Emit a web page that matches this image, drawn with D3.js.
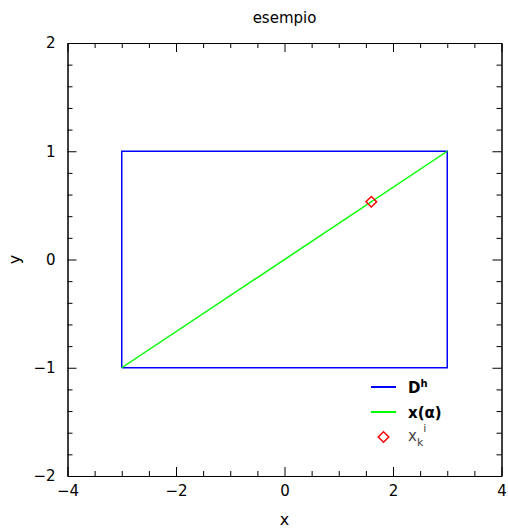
<!DOCTYPE html>
<html lang="en">
<head>
  <meta charset="UTF-8">
  <title>esempio</title>
  <script src="https://d3js.org/d3.v7.min.js"></script>
  <style>
    body { margin: 0; background: #fff; }
    svg text { font-family: 'DejaVu Sans', sans-serif; }
  </style>
</head>
<body>
  <div id="chart"></div>
  <script>
    // data
    const boxX = [-3, 3, 3, -3, -3];
    const boxY = [-1, -1, 1, 1, -1];
    const lineX = [-3, 3];
    const lineY = [-1, 1];
    const pointX = [1.6];
    const pointY = [0.5333];
    const xMajor = [-4, -2, 0, 2, 4];
    const yMajor = [-2, -1, 0, 1, 2];
    const legendLabels = ["D", "x(α)", "x"];

    const W = 508, H = 528;
    const margin = { top: 43, right: 6.5, bottom: 52, left: 67.5 };
    const width = W - margin.left - margin.right;
    const height = H - margin.top - margin.bottom;

    const svg = d3.select("#chart").append("svg")
      .attr("width", W).attr("height", H);
    const g = svg.append("g")
      .attr("transform", `translate(${margin.left},${margin.top})`);

    const x = d3.scaleLinear().domain([-4, 4]).range([0, width]);
    const y = d3.scaleLinear().domain([-2, 2]).range([height, 0]);

    const fmt = d => d < 0 ? "\u2212" + Math.abs(d) : String(d);
    const xMinor = d3.range(-4, 4.01, 0.5).filter(v => !xMajor.includes(v));
    const yMinor = d3.range(-2, 2.01, 0.2).map(v => +v.toFixed(1)).filter(v => !yMajor.includes(v));

    // inward ticks on all four sides
    function ticks(axisFn, scale, vals, len, labels) {
      return a => a.call(axisFn(scale).tickValues(vals).tickSizeInner(-len).tickSizeOuter(0)
        .tickFormat(labels ? fmt : ""));
    }
    const bottom = g.append("g").attr("transform", `translate(0,${height})`);
    bottom.call(ticks(d3.axisBottom, x, xMajor, 9, true));
    g.append("g").attr("transform", `translate(0,${height})`).call(ticks(d3.axisBottom, x, xMinor, 5));
    g.append("g").call(ticks(d3.axisTop, x, xMajor, 9));
    g.append("g").call(ticks(d3.axisTop, x, xMinor, 5));
    const left = g.append("g");
    left.call(ticks(d3.axisLeft, y, yMajor, 9, true));
    g.append("g").call(ticks(d3.axisLeft, y, yMinor, 5));
    g.append("g").attr("transform", `translate(${width},0)`).call(ticks(d3.axisRight, y, yMajor, 9));
    g.append("g").attr("transform", `translate(${width},0)`).call(ticks(d3.axisRight, y, yMinor, 5));

    g.selectAll(".domain").attr("stroke", "#000");
    g.selectAll(".tick line").attr("stroke", "#000");
    bottom.selectAll(".tick text").attr("dy", "1.15em").attr("font-size", 15).attr("fill", "#000");
    left.selectAll(".tick text").attr("x", -12).attr("font-size", 15).attr("fill", "#000");

    // box
    const line = d3.line().x(d => x(d[0])).y(d => y(d[1]));
    g.append("path")
      .attr("d", line(d3.zip(boxX, boxY)))
      .attr("fill", "none").attr("stroke", "#0000ff").attr("stroke-width", 1.5);
    g.append("path")
      .attr("d", line(d3.zip(lineX, lineY)))
      .attr("fill", "none").attr("stroke", "#00ff00").attr("stroke-width", 1.5);
    const diamond = d3.symbol().type(d3.symbolSquare).size(56);
    g.selectAll(".pt").data(d3.zip(pointX, pointY)).enter().append("path")
      .attr("d", diamond)
      .attr("transform", d => `translate(${x(d[0])},${y(d[1])}) rotate(45)`)
      .attr("fill", "none").attr("stroke", "#ff0000").attr("stroke-width", 1.5);

    // titles
    svg.append("text").attr("x", margin.left + width / 2).attr("y", 23)
      .attr("text-anchor", "middle").attr("font-size", 15).text("esempio");
    svg.append("text").attr("x", margin.left + width / 2).attr("y", 525)
      .attr("text-anchor", "middle").attr("font-size", 16).text("x");
    svg.append("text").attr("transform", `translate(20,${margin.top + height / 2}) rotate(-90)`)
      .attr("text-anchor", "middle").attr("font-size", 16).text("y");

    // legend
    const lg = svg.append("g").attr("transform", "translate(371,387)");
    const rowH = 25;
    lg.append("line").attr("x1", 0).attr("x2", 25).attr("y1", 0).attr("y2", 0)
      .attr("stroke", "#0000ff").attr("stroke-width", 2);
    lg.append("line").attr("x1", 0).attr("x2", 25).attr("y1", rowH).attr("y2", rowH)
      .attr("stroke", "#00ff00").attr("stroke-width", 2);
    lg.append("path").attr("d", diamond)
      .attr("transform", `translate(12.5,${2 * rowH}) rotate(45)`)
      .attr("fill", "none").attr("stroke", "#ff0000").attr("stroke-width", 1.5);

    const t1 = lg.append("text").attr("x", 37).attr("y", 6).attr("font-size", 15).attr("font-weight", "bold");
    t1.append("tspan").text(legendLabels[0]);
    t1.append("tspan").attr("dy", -6).attr("font-size", 10).text("h");
    lg.append("text").attr("x", 37).attr("y", rowH + 6).attr("font-size", 15).attr("font-weight", "bold")
      .text(legendLabels[1]);
    const t3 = lg.append("text").attr("x", 37).attr("y", 2 * rowH + 4).attr("font-size", 15).attr("fill", "#444");
    t3.append("tspan").text(legendLabels[2]);
    t3.append("tspan").attr("dy", 5).attr("font-size", 11).text("k");
    t3.append("tspan").attr("dy", -14).attr("dx", 0).attr("font-size", 11).text("i");
  </script>
</body>
</html>
